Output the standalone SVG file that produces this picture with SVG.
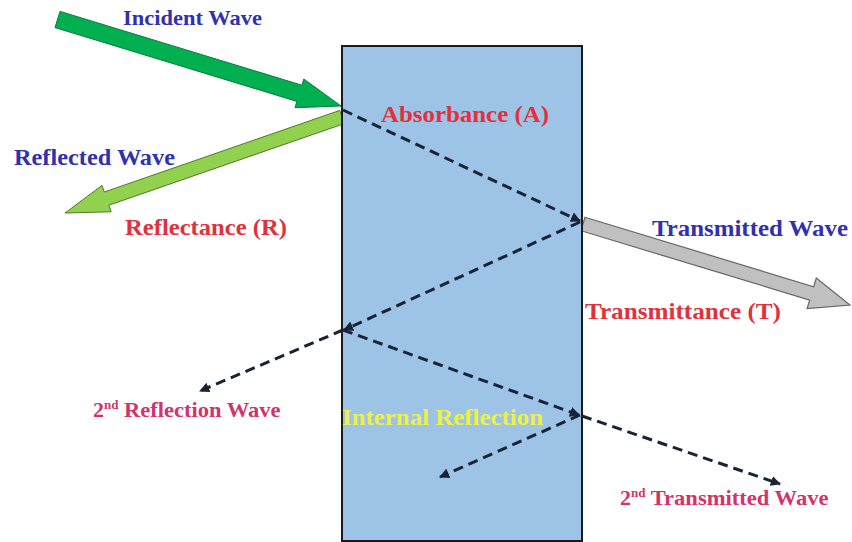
<svg xmlns="http://www.w3.org/2000/svg" width="852" height="542" viewBox="0 0 852 542">
<style>
text{font-family:"Liberation Serif","Times New Roman",serif;font-weight:bold}
.blue{fill:#3030B0}
.red{fill:#E2303C}
.pink{fill:#D4336A}
.yel{fill:#EEF04A}
.dash{fill:none;stroke:#1a2336;stroke-width:3;stroke-dasharray:10 6;marker-end:url(#ah)}
</style>
<defs>
<marker id="ah" viewBox="0 0 10 10" refX="9" refY="5" markerWidth="3.4" markerHeight="3.4" orient="auto" markerUnits="strokeWidth">
<path d="M0,0 L10,5 L0,10 z" fill="#1a2336"/>
</marker>
</defs>
<rect width="852" height="542" fill="#ffffff"/>
<g id="arrows">
<polygon id="incident-arrow" points="60,11.4 301.9,85.2 303.8,79 341,106 295,107.7 296.9,101.4 55,27.6" fill="#00B050" stroke="#0a7a3a" stroke-width="1"/>
<polygon id="reflected-arrow" points="339.7,110.4 104.3,192 102,185.4 65,213 111.2,211.8 108.9,205.2 344.3,123.6" fill="#92D050" stroke="#4e7a28" stroke-width="1"/>
<polygon id="transmitted-arrow" points="585,217.3 813.7,286.7 816.3,278.1 850,305 807.1,308.7 809.7,300.1 581,230.7" fill="#C0C0C0" stroke="#666666" stroke-width="1.2"/>
</g>
<g id="slab">
<rect x="342" y="46" width="240" height="495" fill="#9DC3E6" stroke="#1b1b1b" stroke-width="2"/>
</g>
<g id="connectors">
<line class="dash" x1="343" y1="110" x2="580" y2="221"/>
<line class="dash" x1="580" y1="222" x2="344" y2="330"/>
<line class="dash" x1="343" y1="330" x2="200" y2="391"/>
<line class="dash" x1="343" y1="330" x2="579" y2="415"/>
<line class="dash" x1="580" y1="415" x2="440" y2="477"/>
<line class="dash" x1="582" y1="416" x2="780" y2="484"/>
</g>
<g id="labels">
<text class="blue" x="123" y="25" font-size="22" textLength="139" lengthAdjust="spacingAndGlyphs">Incident Wave</text>
<text class="red" x="381" y="122" font-size="24" textLength="168" lengthAdjust="spacingAndGlyphs">Absorbance (A)</text>
<text class="blue" x="14" y="165" font-size="24" textLength="161" lengthAdjust="spacingAndGlyphs">Reflected Wave</text>
<text class="red" x="125" y="235" font-size="24" textLength="162" lengthAdjust="spacingAndGlyphs">Reflectance (R)</text>
<text class="blue" x="652" y="236" font-size="24" textLength="196" lengthAdjust="spacingAndGlyphs">Transmitted Wave</text>
<text class="red" x="585" y="319" font-size="24" textLength="196" lengthAdjust="spacingAndGlyphs">Transmittance (T)</text>
<text class="yel" x="342" y="425" font-size="24" textLength="201" lengthAdjust="spacingAndGlyphs">Internal Reflection</text>
<text class="pink" x="93" y="417" font-size="22">2<tspan font-size="13" dy="-8">nd</tspan><tspan dy="8" textLength="162" lengthAdjust="spacingAndGlyphs"> Reflection Wave</tspan></text>
<text class="pink" x="620" y="505" font-size="22">2<tspan font-size="13" dy="-8">nd</tspan><tspan dy="8" textLength="183" lengthAdjust="spacingAndGlyphs"> Transmitted Wave</tspan></text>
</g>
</svg>
